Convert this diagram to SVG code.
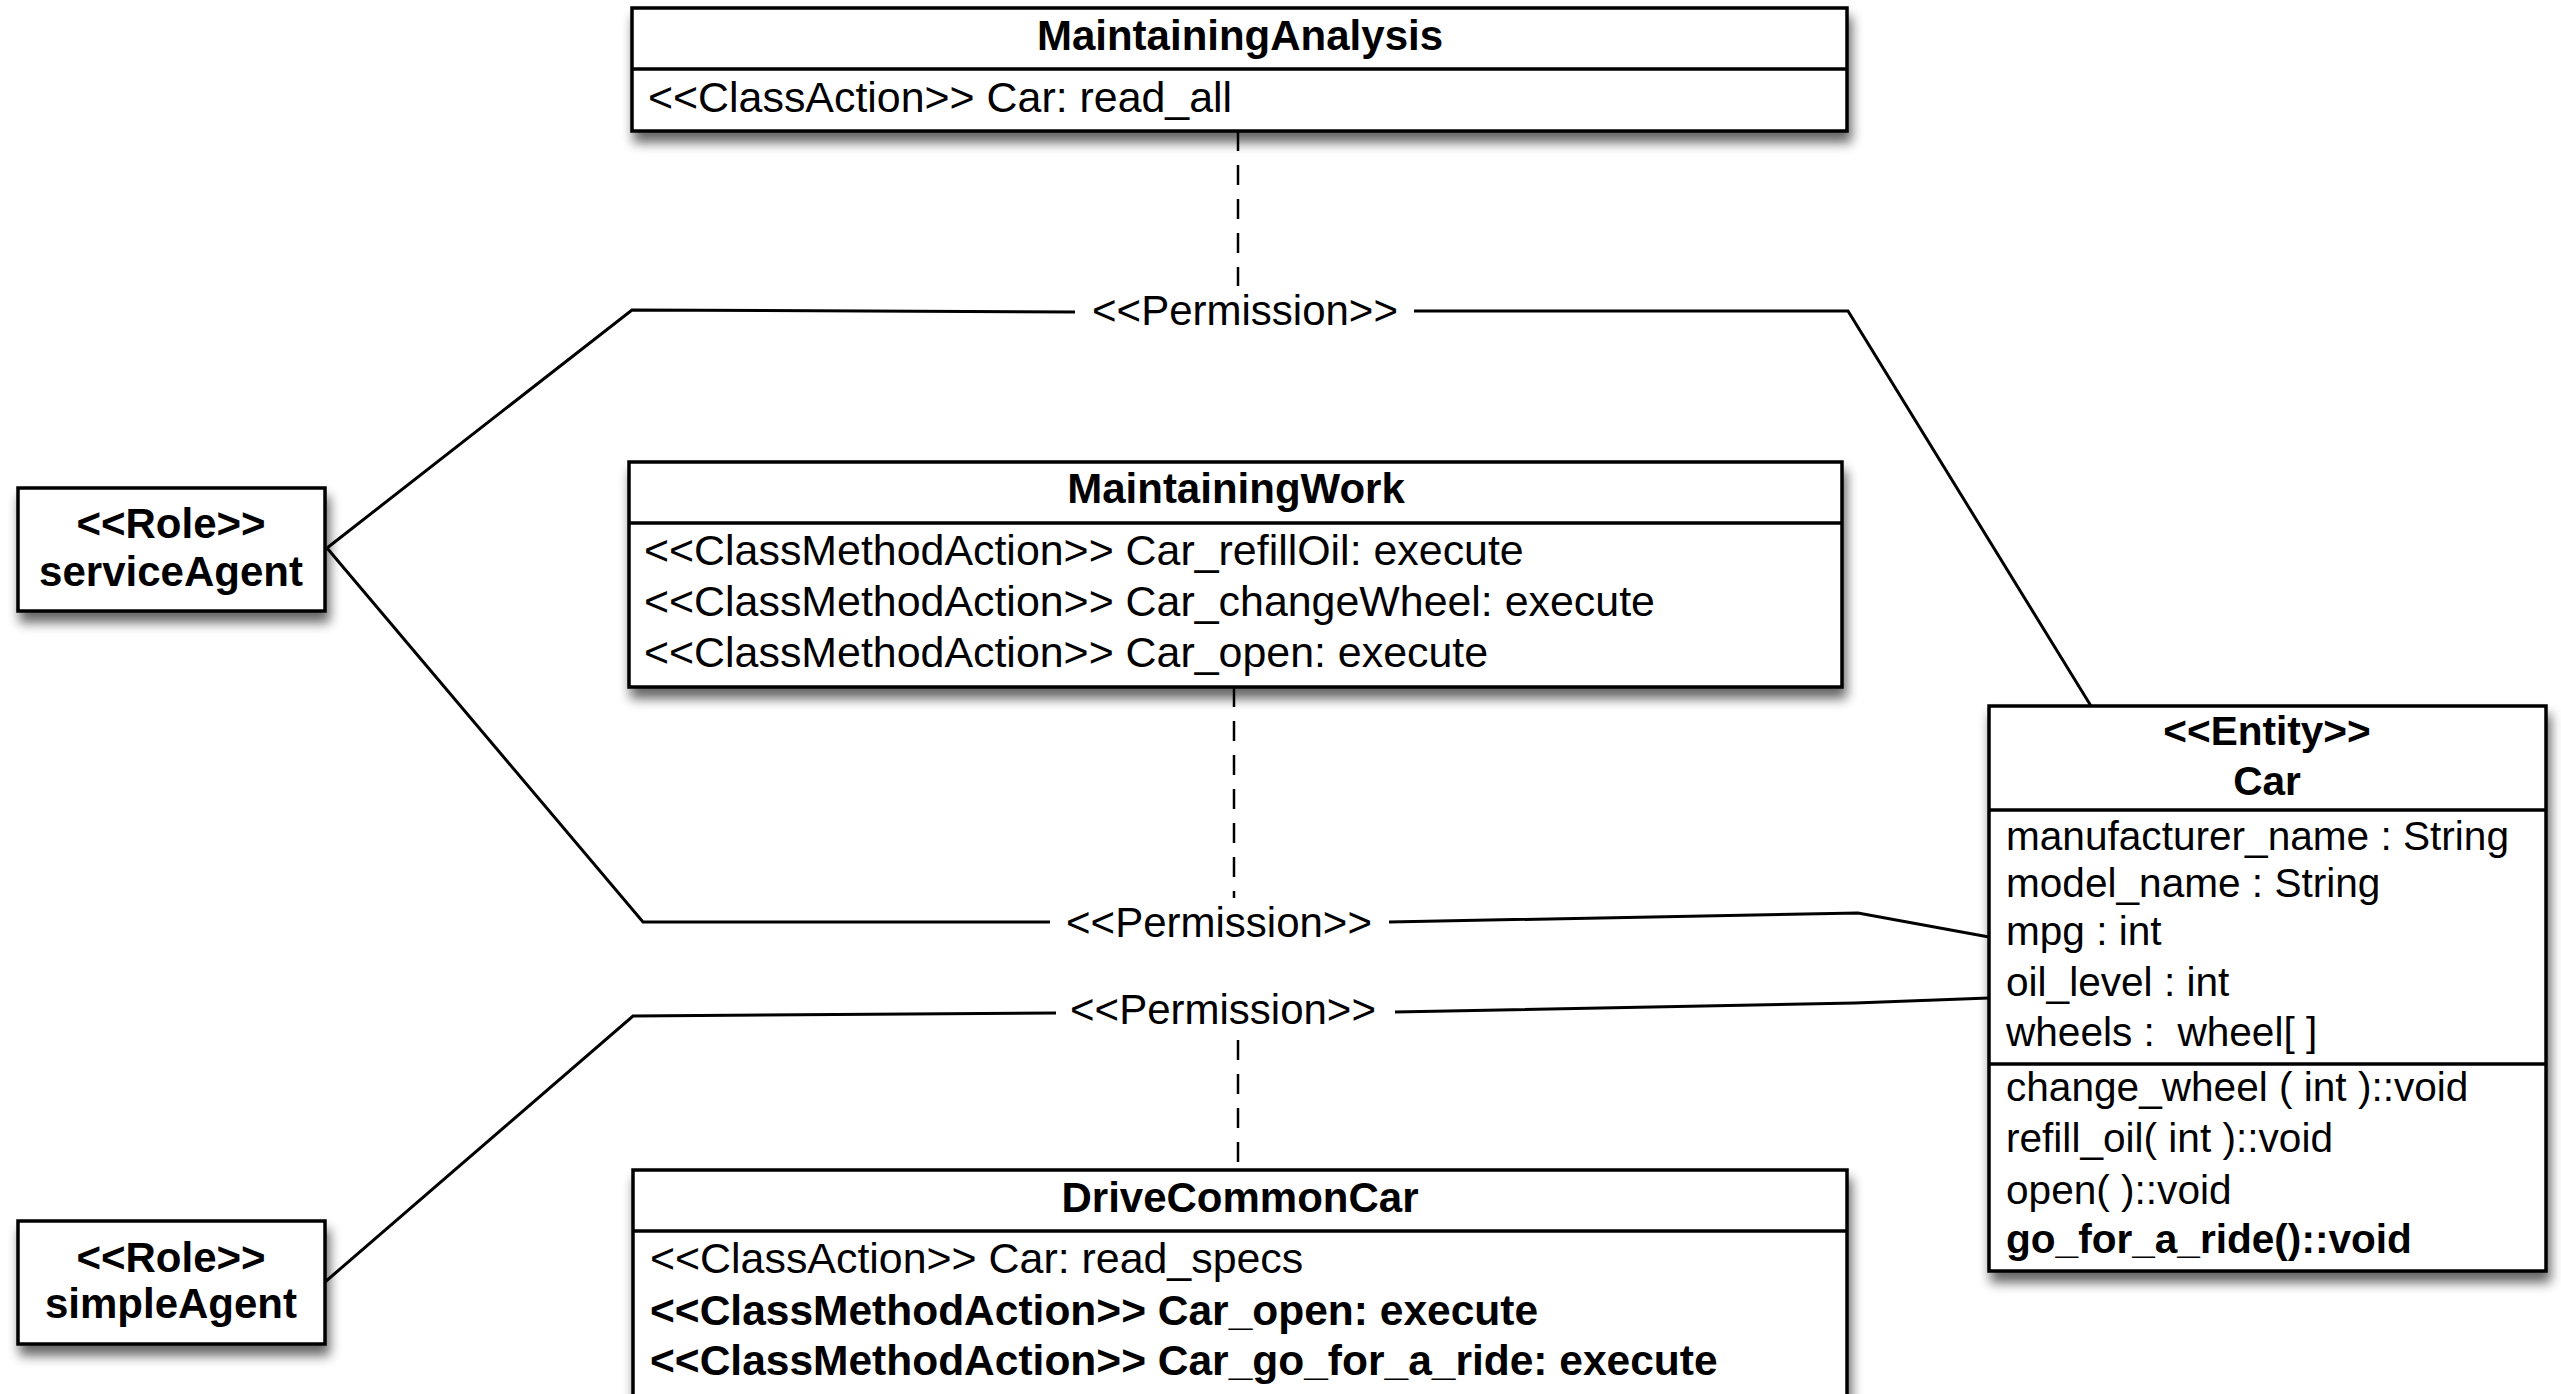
<svg xmlns="http://www.w3.org/2000/svg" width="2561" height="1394" viewBox="0 0 2561 1394">
<style>
.box{fill:#fff;stroke:#000;stroke-width:3.5;filter:url(#sh)}
.div{stroke:#000;stroke-width:3.5}
.t{font-family:"Liberation Sans",Arial,Helvetica,sans-serif;font-size:42px;fill:#000;white-space:pre}
.r{font-size:42.9px}
.b{font-weight:bold}
.br{font-weight:bold;font-size:42.5px}
.c{text-anchor:middle}
.a{font-size:40.6px}
.con{fill:none;stroke:#000;stroke-width:3;stroke-linejoin:miter}
.dash{fill:none;stroke:#000;stroke-width:2.5;stroke-dasharray:20 14}
</style>
<defs>
<filter id="sh" x="-10%" y="-10%" width="125%" height="140%">
<feGaussianBlur in="SourceAlpha" stdDeviation="6"/>
<feOffset dx="3" dy="10" result="o"/>
<feComponentTransfer><feFuncA type="linear" slope="0.6"/></feComponentTransfer>
<feMerge><feMergeNode/><feMergeNode in="SourceGraphic"/></feMerge>
</filter>
</defs>
<rect width="2561" height="1394" fill="#fff"/>

<g id="connectors">
<path class="dash" d="M1238 131 L1238 286"/>
<path class="dash" d="M1234 687 L1234 898"/>
<path class="dash" d="M1238 1040 L1238 1170"/>
<path class="con" d="M327 548 L632 310 L1075 312"/>
<path class="con" d="M1414 311 L1848 311 L2091 706"/>
<text class="t c" x="1245" y="325">&lt;&lt;Permission&gt;&gt;</text>
<path class="con" d="M327 548 L643 922 L1050 922"/>
<path class="con" d="M1389 922 L1858 913 L1989 937"/>
<text class="t c" x="1219" y="937">&lt;&lt;Permission&gt;&gt;</text>
<path class="con" d="M325 1282 L633 1016 L1056 1013"/>
<path class="con" d="M1395 1012 L1855 1003 L1989 998"/>
<text class="t c" x="1223" y="1024">&lt;&lt;Permission&gt;&gt;</text>
</g>

<g id="MaintainingAnalysis">
<rect class="box" x="632" y="8" width="1215" height="123"/>
<line class="div" x1="632" y1="69" x2="1847" y2="69"/>
<text class="t b c" x="1240" y="50">MaintainingAnalysis</text>
<text class="t r" x="648" y="112">&lt;&lt;ClassAction&gt;&gt; Car: read_all</text>
</g>

<g id="MaintainingWork">
<rect class="box" x="629" y="462" width="1213" height="225"/>
<line class="div" x1="629" y1="523" x2="1842" y2="523"/>
<text class="t b c" x="1236" y="503">MaintainingWork</text>
<text class="t r" x="644" y="565">&lt;&lt;ClassMethodAction&gt;&gt; Car_refillOil: execute</text>
<text class="t r" x="644" y="616">&lt;&lt;ClassMethodAction&gt;&gt; Car_changeWheel: execute</text>
<text class="t r" x="644" y="667">&lt;&lt;ClassMethodAction&gt;&gt; Car_open: execute</text>
</g>

<g id="DriveCommonCar">
<rect class="box" x="633" y="1170" width="1214" height="250"/>
<line class="div" x1="633" y1="1231" x2="1847" y2="1231"/>
<text class="t b c" x="1240" y="1212">DriveCommonCar</text>
<text class="t r" x="650" y="1273">&lt;&lt;ClassAction&gt;&gt; Car: read_specs</text>
<text class="t br" x="650" y="1325">&lt;&lt;ClassMethodAction&gt;&gt; Car_open: execute</text>
<text class="t br" x="650" y="1375">&lt;&lt;ClassMethodAction&gt;&gt; Car_go_for_a_ride: execute</text>
</g>

<g id="serviceAgent">
<rect class="box" x="18" y="488" width="307" height="123"/>
<text class="t b c" x="171" y="538">&lt;&lt;Role&gt;&gt;</text>
<text class="t b c" x="171" y="586">serviceAgent</text>
</g>

<g id="simpleAgent">
<rect class="box" x="18" y="1221" width="307" height="123"/>
<text class="t b c" x="171" y="1272">&lt;&lt;Role&gt;&gt;</text>
<text class="t b c" x="171" y="1318">simpleAgent</text>
</g>

<g id="Car">
<rect class="box" x="1989" y="706" width="557" height="565"/>
<line class="div" x1="1989" y1="810" x2="2546" y2="810"/>
<line class="div" x1="1989" y1="1064" x2="2546" y2="1064"/>
<text class="t a b c" x="2267" y="745">&lt;&lt;Entity&gt;&gt;</text>
<text class="t a b c" x="2267" y="795">Car</text>
<text class="t a" x="2006" y="850">manufacturer_name : String</text>
<text class="t a" x="2006" y="897">model_name : String</text>
<text class="t a" x="2006" y="945">mpg : int</text>
<text class="t a" x="2006" y="996">oil_level : int</text>
<text class="t a" x="2006" y="1046">wheels :  wheel[ ]</text>
<text class="t a" x="2006" y="1101">change_wheel ( int )::void</text>
<text class="t a" x="2006" y="1152">refill_oil( int )::void</text>
<text class="t a" x="2006" y="1204">open( )::void</text>
<text class="t a b" x="2006" y="1253">go_for_a_ride()::void</text>
</g>
</svg>
